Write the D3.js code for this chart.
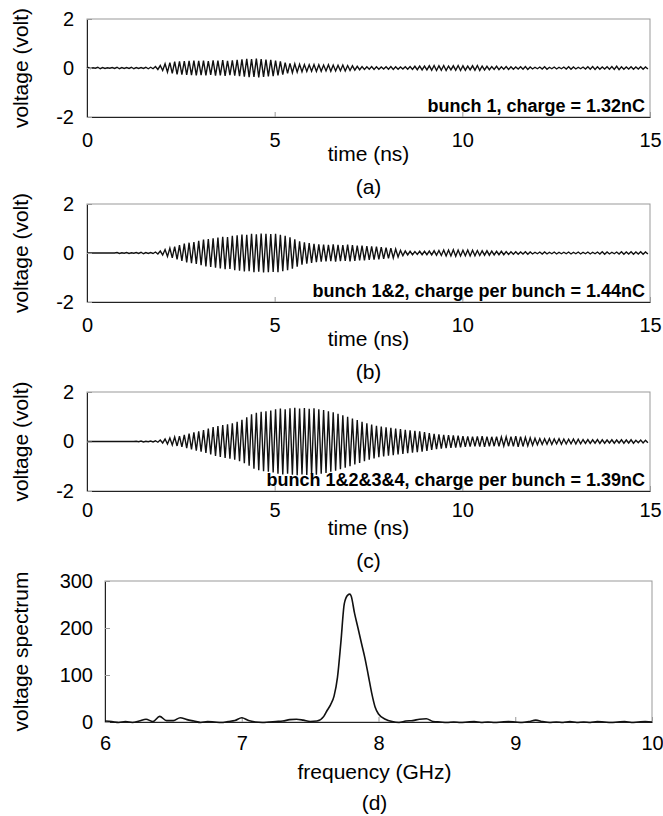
<!DOCTYPE html>
<html>
<head>
<meta charset="utf-8">
<script src="https://cdn.jsdelivr.net/npm/d3@7"></script>
<style>
  body { margin: 0; background: #fff; }
  text { font-family: "Liberation Sans", Arial, sans-serif; fill: #000; }
</style>
</head>
<body>
<svg id="chart" width="663" height="816"></svg>
<script>
// one cycle of the ~7.8 GHz signal, in ns
var period = 0.128;

// peak amplitude (volt) of each cycle, 8 cycles per row
var ampA = [
  0.02,0.01,0.03,0.02,0.01,0.02,0.03,0.02,
  0.02,0.03,0.02,0.02,0.03,0.03,0.06,0.10,
  0.17,0.22,0.26,0.27,0.28,0.29,0.30,0.29,
  0.30,0.28,0.31,0.30,0.32,0.29,0.31,0.33,
  0.35,0.37,0.36,0.38,0.36,0.34,0.33,0.30,
  0.27,0.22,0.19,0.17,0.15,0.14,0.13,0.14,
  0.13,0.12,0.13,0.12,0.11,0.12,0.10,0.09,
  0.07,0.06,0.05,0.06,0.05,0.04,0.05,0.06,
  0.05,0.04,0.05,0.06,0.07,0.08,0.08,0.09,
  0.10,0.09,0.10,0.08,0.09,0.10,0.09,0.08,
  0.09,0.10,0.08,0.07,0.06,0.07,0.05,0.06,
  0.05,0.04,0.05,0.06,0.04,0.03,0.04,0.05,
  0.03,0.04,0.03,0.04,0.05,0.04,0.03,0.04,
  0.05,0.06,0.05,0.04,0.05,0.06,0.07,0.05,
  0.04,0.05,0.04,0.05,0.04
];
var ampB = [
  0,0,0,0,0,0,0.02,0.01,
  0.02,0.01,0.02,0.03,0.02,0.02,0.04,0.08,
  0.14,0.20,0.26,0.32,0.38,0.42,0.45,0.50,
  0.55,0.57,0.60,0.63,0.66,0.65,0.70,0.72,
  0.75,0.74,0.78,0.76,0.79,0.78,0.77,0.78,
  0.74,0.70,0.64,0.56,0.48,0.44,0.40,0.37,
  0.35,0.34,0.33,0.35,0.33,0.32,0.34,0.32,
  0.30,0.30,0.28,0.27,0.26,0.24,0.22,0.20,
  0.16,0.11,0.08,0.07,0.06,0.07,0.07,0.08,
  0.09,0.10,0.12,0.12,0.13,0.12,0.11,0.12,
  0.11,0.10,0.09,0.09,0.08,0.07,0.07,0.06,
  0.05,0.05,0.04,0.05,0.04,0.03,0.04,0.04,
  0.03,0.04,0.03,0.03,0.04,0.03,0.04,0.03,
  0.04,0.03,0.04,0.05,0.04,0.03,0.04,0.05,
  0.04,0.05,0.04,0.05,0.04
];
var ampC = [
  0,0,0,0,0,0,0,0,
  0,0,0.01,0.02,0.01,0.02,0.03,0.06,
  0.10,0.14,0.18,0.22,0.27,0.32,0.37,0.41,
  0.46,0.52,0.58,0.62,0.66,0.70,0.74,0.80,
  0.88,0.98,1.10,1.16,1.20,1.22,1.25,1.30,
  1.33,1.30,1.34,1.36,1.33,1.35,1.32,1.34,
  1.30,1.27,1.22,1.18,1.12,1.06,1.00,0.93,
  0.87,0.80,0.74,0.68,0.63,0.60,0.57,0.55,
  0.52,0.50,0.47,0.45,0.43,0.41,0.38,0.34,
  0.31,0.29,0.27,0.26,0.25,0.24,0.22,0.21,
  0.20,0.21,0.22,0.20,0.19,0.20,0.18,0.19,
  0.20,0.22,0.20,0.17,0.15,0.13,0.12,0.11,
  0.12,0.10,0.11,0.10,0.09,0.10,0.09,0.08,
  0.08,0.07,0.08,0.07,0.06,0.07,0.06,0.07,
  0.06,0.07,0.05,0.06,0.05
];
var timeTicks = [0, 5, 10, 15];
var voltTicks = [-2, 0, 2];
var notes = [
  "bunch 1, charge = 1.32nC",
  "bunch 1&2, charge per bunch = 1.44nC",
  "bunch 1&2&3&4, charge per bunch = 1.39nC"
];

// spectrum of trace (c)
var freqs = [
  6.00,6.05,6.10,6.15,6.20,6.25,6.30,6.35,6.40,6.45,6.50,6.55,6.60,6.65,6.70,6.75,
  6.80,6.85,6.90,6.95,7.00,7.05,7.10,7.15,7.20,7.25,7.30,7.35,7.40,7.45,7.50,7.55,
  7.60,7.625,7.65,7.675,7.70,7.725,7.75,7.775,7.79,7.80,7.825,7.85,7.875,7.90,7.925,
  7.95,7.975,8.00,8.05,8.10,8.15,8.20,8.25,8.30,8.35,8.40,8.45,8.50,8.55,8.60,8.65,
  8.70,8.75,8.80,8.85,8.90,8.95,9.00,9.05,9.10,9.15,9.20,9.25,9.30,9.35,9.40,9.45,
  9.50,9.55,9.60,9.65,9.70,9.75,9.80,9.85,9.90,9.95,10.00
];
var spectrum = [
  2,1,-1,1,-1,2,6,1,12,3,3,9,5,2,-1,1,
  0,-1,1,3,9,3,0,-1,0,1,2,5,6,4,1,2,
  12,25,37,55,95,170,252,270,272,268,231,200,168,137,100,
  62,32,17,6,1,-1,2,3,6,7,1,0,-1,0,-1,0,
  1,-1,0,-1,0,1,0,-1,1,4,1,-1,0,-1,1,-1,
  0,-1,1,0,-1,0,1,-1,0,1,0
];
var freqTicks = [6, 7, 8, 9, 10];
var specTicks = [0, 100, 200, 300];
var letters = ["(a)", "(b)", "(c)", "(d)"];

var svg = d3.select("#chart");
var left = 87, right = 650;
var tops = [19, 204, 392], bottoms = [117, 302, 491];
var tickPads = [16, 16, 12];
var traces = [ampA, ampB, ampC];
var plain = function(d) { return String(d); };

function toWave(amps) {
  var pts = [[0, 0]];
  amps.forEach(function(a, k) {
    pts.push([(k + 0.25) * period, a]);
    pts.push([(k + 0.75) * period, -a]);
  });
  return pts;
}

function styleAxis(g) {
  g.select(".domain").attr("stroke", "#222").attr("stroke-width", 1);
  g.selectAll(".tick line").attr("stroke", "#999");
  g.selectAll(".tick text").style("font-size", "20px").attr("fill", "#000");
}

traces.forEach(function(amps, i) {
  var x = d3.scaleLinear().domain([0, 15]).range([left, right]);
  var y = d3.scaleLinear().domain([-2, 2]).range([bottoms[i], tops[i]]);
  var g = svg.append("g");

  g.append("rect")
    .attr("x", left).attr("y", tops[i])
    .attr("width", right - left).attr("height", bottoms[i] - tops[i])
    .attr("fill", "none").attr("stroke", "#999");

  g.append("path")
    .datum(toWave(amps).filter(function(p) { return p[0] <= 15; }))
    .attr("fill", "none").attr("stroke", "#111").attr("stroke-width", 1.4)
    .attr("d", d3.line().x(function(p) { return x(p[0]); }).y(function(p) { return y(p[1]); }));

  g.append("g").attr("transform", "translate(0," + bottoms[i] + ")")
    .call(d3.axisBottom(x).tickValues(timeTicks).tickFormat(plain)
      .tickSizeInner(-5).tickSizeOuter(0).tickPadding(tickPads[i]))
    .call(styleAxis);
  g.append("g").attr("transform", "translate(" + left + ",0)")
    .call(d3.axisLeft(y).tickValues(voltTicks).tickFormat(plain)
      .tickSizeInner(-5).tickSizeOuter(0).tickPadding(13))
    .call(styleAxis);

  g.append("text")
    .attr("x", 645).attr("y", bottoms[i] - 5)
    .attr("text-anchor", "end")
    .style("font-size", "18px").style("font-weight", "bold")
    .text(notes[i]);

  var mid = (left + right) / 2;
  g.append("text").attr("x", mid).attr("y", bottoms[i] + 44)
    .attr("text-anchor", "middle").style("font-size", "21px").text("time (ns)");
  g.append("text").attr("x", mid).attr("y", bottoms[i] + 77)
    .attr("text-anchor", "middle").style("font-size", "21px").text(letters[i]);
  g.append("text")
    .attr("transform", "translate(28," + (tops[i] + bottoms[i]) / 2 + ") rotate(-90)")
    .attr("text-anchor", "middle").style("font-size", "21px").text("voltage (volt)");
});

// spectrum panel
var dl = 105, dr = 652, dt = 581, db = 722;
var fx = d3.scaleLinear().domain([6, 10]).range([dl, dr]);
var fy = d3.scaleLinear().domain([0, 300]).range([db, dt]);
var gd = svg.append("g");

gd.append("rect")
  .attr("x", dl).attr("y", dt).attr("width", dr - dl).attr("height", db - dt)
  .attr("fill", "none").attr("stroke", "#999");

gd.append("g").attr("transform", "translate(0," + db + ")")
  .call(d3.axisBottom(fx).tickValues(freqTicks).tickFormat(plain)
    .tickSizeInner(-5).tickSizeOuter(0).tickPadding(14))
  .call(styleAxis);
gd.append("g").attr("transform", "translate(" + dl + ",0)")
  .call(d3.axisLeft(fy).tickValues(specTicks).tickFormat(plain)
    .tickSizeInner(-5).tickSizeOuter(0).tickPadding(12))
  .call(styleAxis);

gd.append("path")
  .datum(d3.zip(freqs, spectrum))
  .attr("fill", "none").attr("stroke", "#111").attr("stroke-width", 1.6)
  .attr("d", d3.line().curve(d3.curveMonotoneX)
    .x(function(p) { return fx(p[0]); }).y(function(p) { return fy(p[1]); }));

gd.append("text").attr("x", (dl + dr) / 2 - 4).attr("y", 779)
  .attr("text-anchor", "middle").style("font-size", "21px").text("frequency (GHz)");
gd.append("text").attr("x", (dl + dr) / 2 - 4).attr("y", 810)
  .attr("text-anchor", "middle").style("font-size", "21px").text(letters[3]);
gd.append("text")
  .attr("transform", "translate(28," + (dt + db) / 2 + ") rotate(-90)")
  .attr("text-anchor", "middle").style("font-size", "21px").text("voltage spectrum");
</script>
</body>
</html>
